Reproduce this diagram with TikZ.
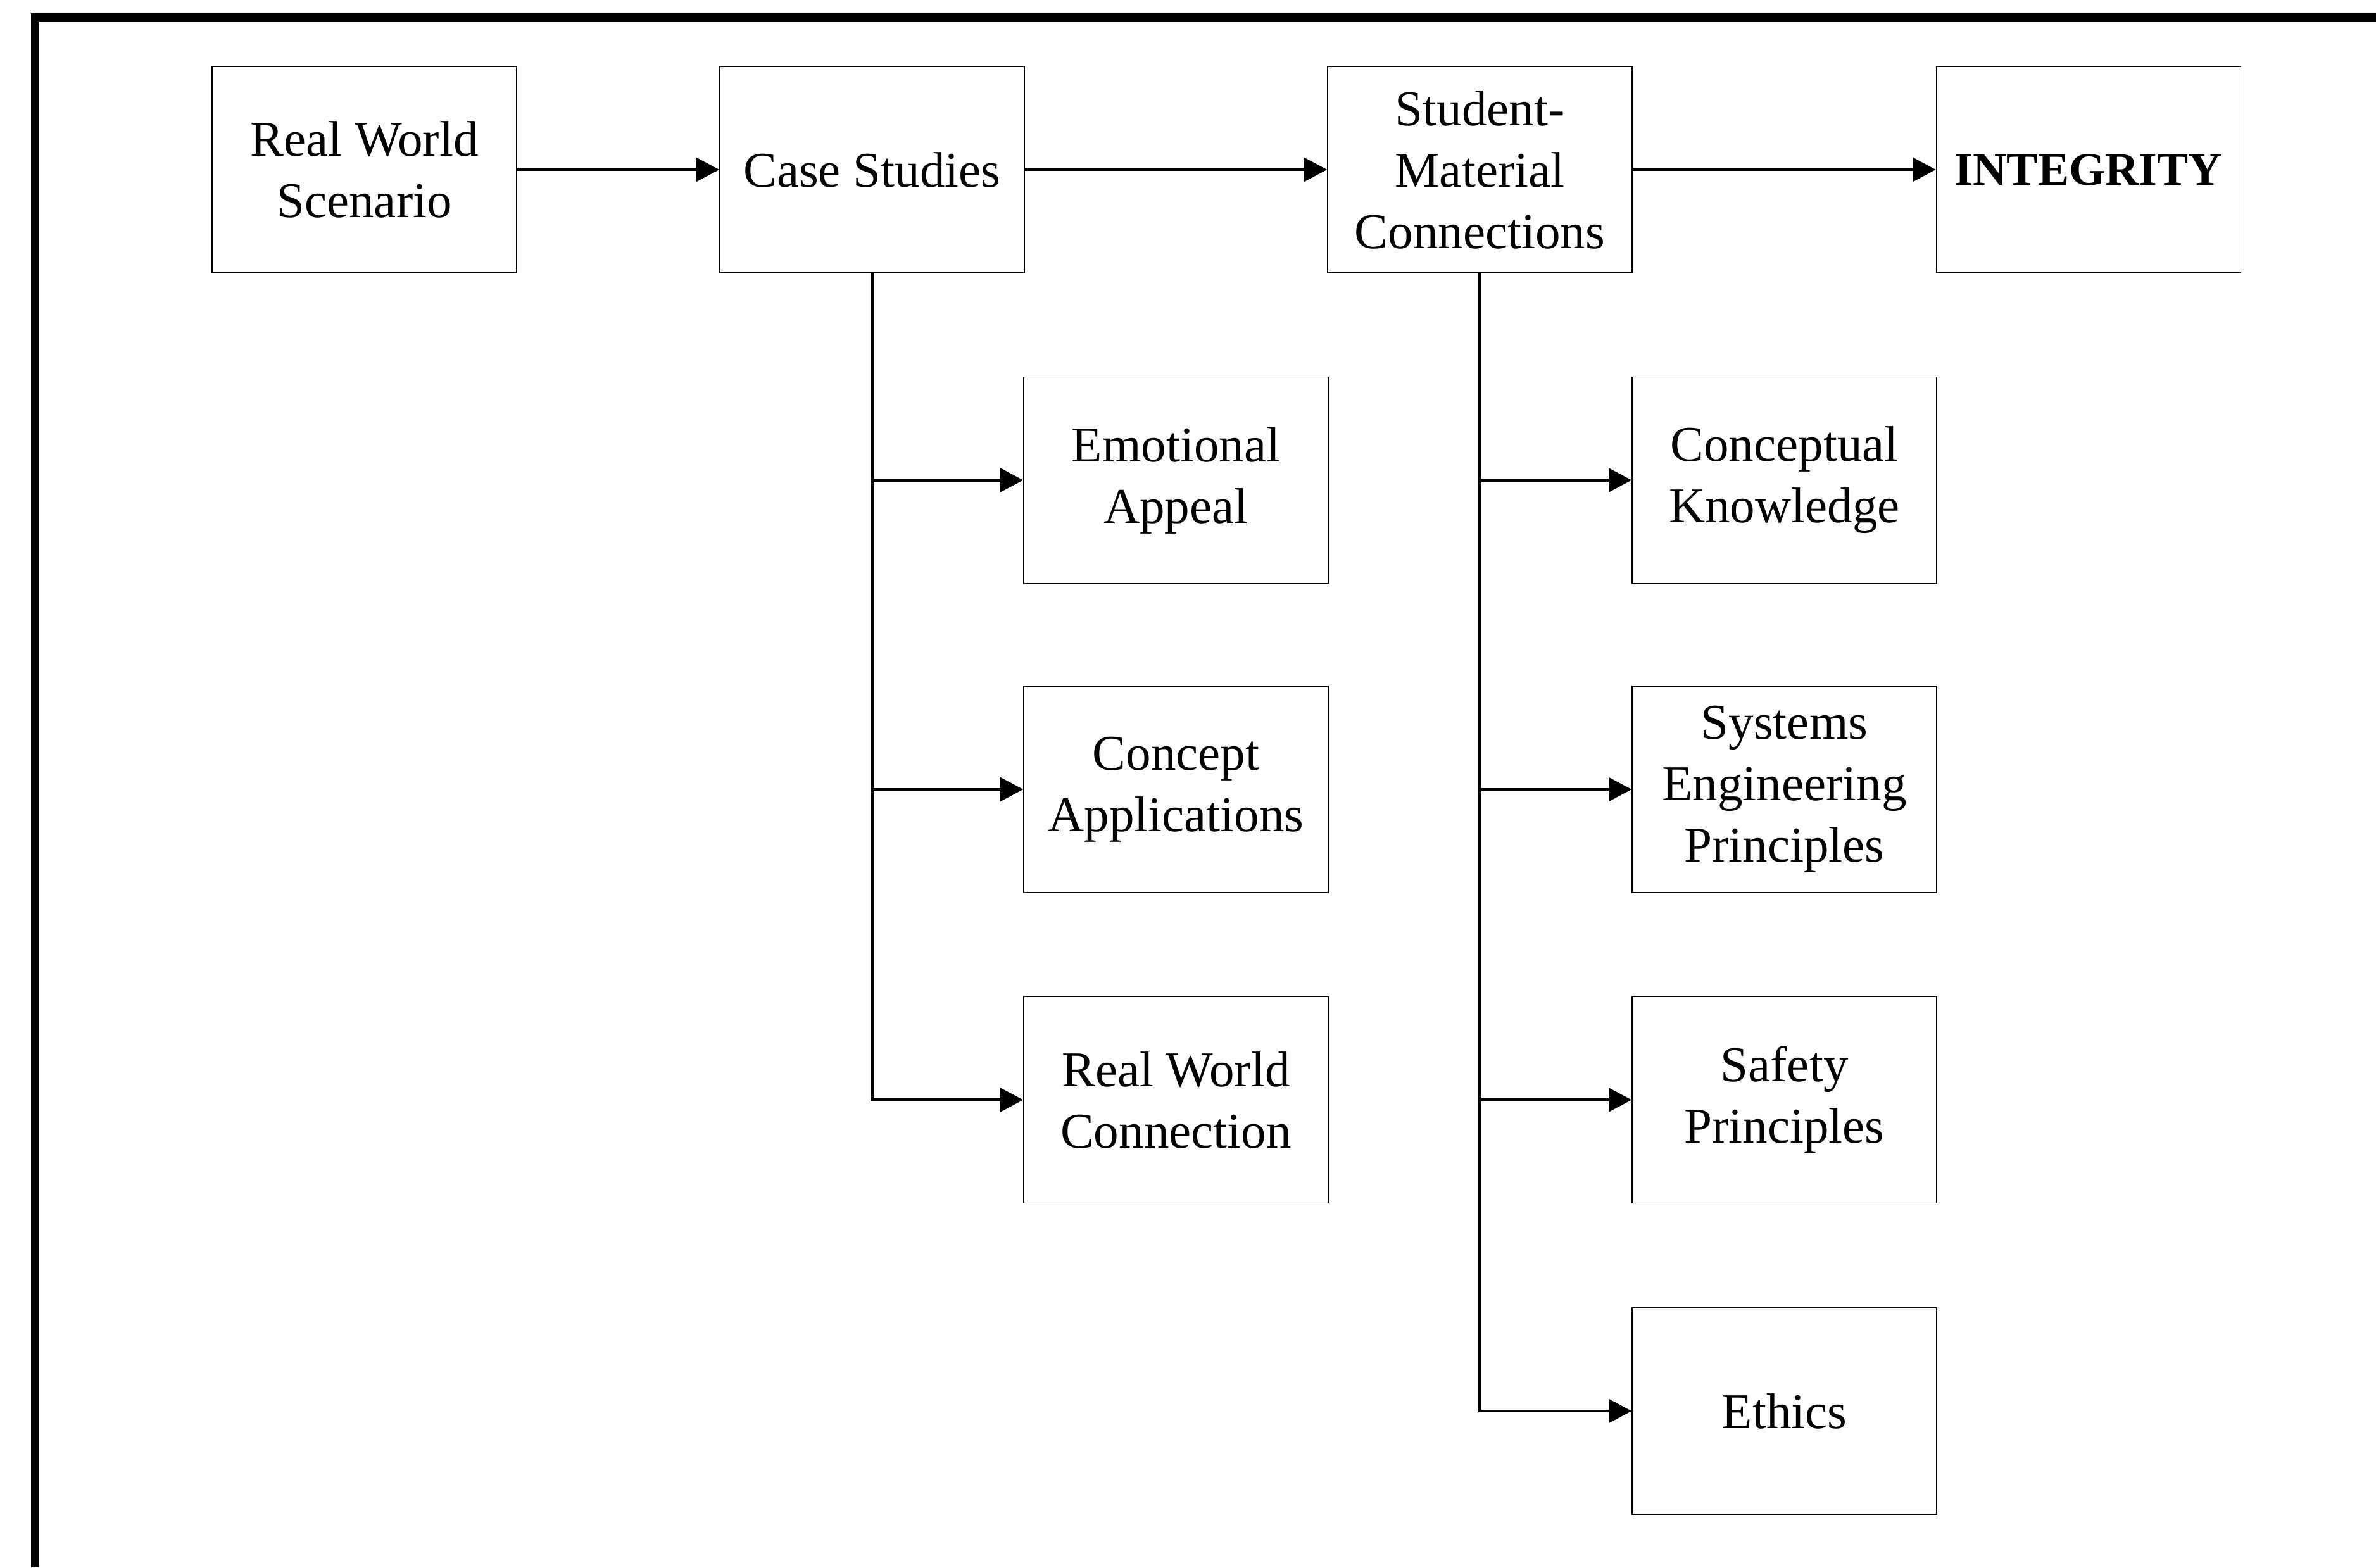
\documentclass[tikz,border=0pt]{standalone}
\usepackage{fontspec}
\setmainfont{Liberation Serif}
\usetikzlibrary{arrows.meta}
\begin{document}
\begin{tikzpicture}[
  box/.style={draw=black, line width=0.45pt, minimum width=4.81cm, minimum height=3.26cm, inner sep=0pt, align=center, font=\fontsize{22.5}{27.6}\selectfont},
  conn/.style={line width=1.3pt, -{Triangle[length=0.36cm,width=0.37cm]}},
  frameline/.style={line width=0.13cm}
]
\useasboundingbox (0,0) rectangle (37.53,24.76);
\fill[white] (0,0) rectangle (37.53,24.76);
\draw[frameline] (0.555,0) -- (0.555,24.485) -- (37.53,24.485);

% top row
\node[box] (rws) at (5.755,22.08) {Real World\\Scenario};
\node[box] (cs)  at (13.775,22.08) {Case Studies};
\node[box] (smc) at (23.375,22.08) {Student-\\Material\\Connections};
\node[box, font=\fontsize{21}{25}\selectfont\bfseries] (integ) at (32.99,22.08) {INTEGRITY};

% case study branches
\node[box] (ea)  at (18.575,17.175) {Emotional\\Appeal};
\node[box] (ca)  at (18.575,12.29) {Concept\\Applications};
\node[box] (rwc) at (18.575,7.385) {Real World\\Connection};

% student-material branches
\node[box] (ck)  at (28.185,17.175) {Conceptual\\Knowledge};
\node[box] (sep) at (28.185,12.29) {Systems\\Engineering\\Principles};
\node[box] (sp)  at (28.185,7.385) {Safety\\Principles};
\node[box] (eth) at (28.185,2.47) {Ethics};

% connectors
\draw[conn] (rws) -- (cs);
\draw[conn] (cs) -- (smc);
\draw[conn] (smc) -- (integ);

\draw[conn] (cs.south) |- (rwc.west);
\draw[conn] (cs.south) |- (ca.west);
\draw[conn] (cs.south) |- (ea.west);

\draw[conn] (smc.south) |- (eth.west);
\draw[conn] (smc.south) |- (sp.west);
\draw[conn] (smc.south) |- (sep.west);
\draw[conn] (smc.south) |- (ck.west);
\end{tikzpicture}
\end{document}
